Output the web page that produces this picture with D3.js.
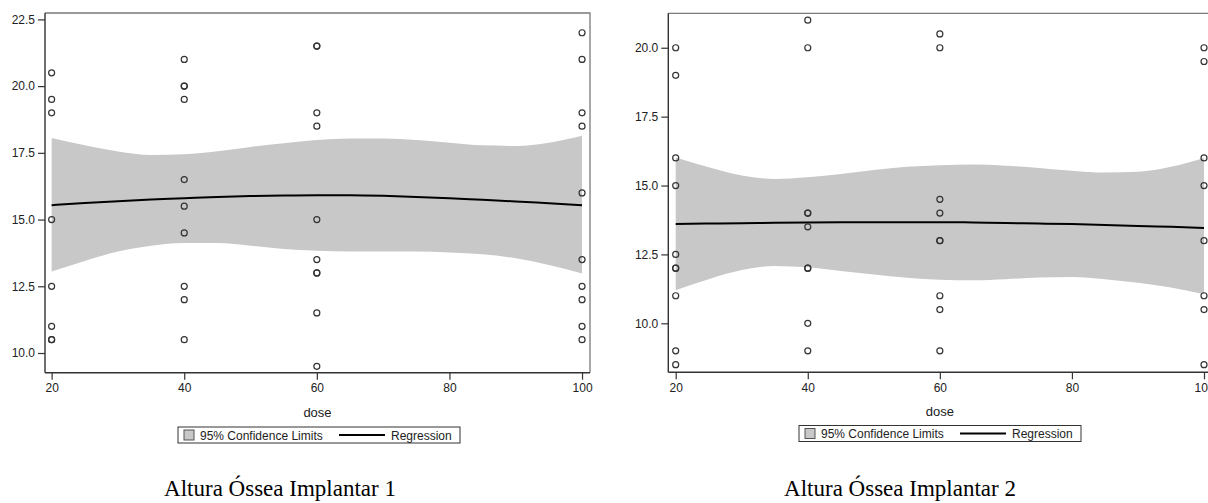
<!DOCTYPE html>
<html>
<head>
<meta charset="utf-8">
<script src="https://cdn.jsdelivr.net/npm/d3@7/dist/d3.min.js"></script>
<style>
  html, body { margin: 0; padding: 0; background: #fff; }
  svg { display: block; }
  text { font-family: "Liberation Sans", Arial, sans-serif; fill: #222; }
  text.caption { font-family: "Liberation Serif", "Times New Roman", serif; fill: #000; }
</style>
</head>
<body>
<svg id="fig" width="1208" height="503"></svg>
<script>
// Dose groups and observed bone heights per group
const doseLevels = [20, 40, 60, 100];
const implant1Obs = [
  [20.5, 19.5, 19, 15, 12.5, 11, 10.5, 10.5],
  [21, 20, 20, 19.5, 16.5, 15.5, 14.5, 12.5, 12, 10.5],
  [21.5, 21.5, 19, 18.5, 15, 13.5, 13, 13, 11.5, 9.5],
  [22, 21, 19, 18.5, 16, 13.5, 12.5, 12, 11, 10.5]
];
const implant2Obs = [
  [20, 19, 16, 15, 12.5, 12, 12, 11, 9, 8.5],
  [21, 20, 14, 14, 13.5, 12, 12, 10, 9],
  [20.5, 20, 14.5, 14, 13, 13, 11, 10.5, 9],
  [20, 19.5, 16, 15, 13, 11, 10.5, 8.5]
];

// Fitted curve and 95% confidence limits along dose
const curveDoses = [20, 25, 30, 35, 40, 45, 50, 55, 60, 65, 70, 75, 80, 85, 90, 95, 100];
const implant1Fit   = [15.54, 15.62, 15.69, 15.75, 15.80, 15.85, 15.88, 15.90, 15.91, 15.91, 15.89, 15.85, 15.80, 15.74, 15.68, 15.61, 15.54];
const implant1Upper = [18.06, 17.78, 17.55, 17.42, 17.45, 17.56, 17.72, 17.86, 17.98, 18.04, 18.04, 17.98, 17.88, 17.78, 17.76, 17.88, 18.14];
const implant1Lower = [13.05, 13.45, 13.80, 14.02, 14.12, 14.12, 14.02, 13.90, 13.83, 13.80, 13.80, 13.80, 13.77, 13.70, 13.55, 13.30, 12.98];
const implant2Fit   = [13.60, 13.62, 13.63, 13.65, 13.66, 13.67, 13.67, 13.67, 13.67, 13.66, 13.64, 13.62, 13.60, 13.57, 13.53, 13.50, 13.46];
const implant2Upper = [16.02, 15.66, 15.36, 15.24, 15.30, 15.42, 15.56, 15.68, 15.74, 15.76, 15.72, 15.64, 15.54, 15.47, 15.50, 15.68, 16.00];
const implant2Lower = [11.20, 11.60, 11.93, 12.08, 12.03, 11.90, 11.77, 11.65, 11.58, 11.56, 11.60, 11.66, 11.68, 11.60, 11.47, 11.30, 11.05];

// Axis ticks
const xTicks = [20, 40, 60, 80, 100];
const yTicks1 = [10, 12.5, 15, 17.5, 20, 22.5];
const yTicks2 = [10, 12.5, 15, 17.5, 20];

const legendLabels = ["95% Confidence Limits", "Regression"];
const axisLabel = "dose";
const captions = ["Altura Óssea Implantar 1", "Altura Óssea Implantar 2"];

const svg = d3.select("#fig");
svg.append("rect").attr("width", 1208).attr("height", 503).attr("fill", "#fff");

function drawPanel(p) {
  const x = d3.scaleLinear().domain(p.xDomain).range([p.left, p.right]);
  const y = d3.scaleLinear().domain(p.yDomain).range([p.bottom, p.top]);
  const g = svg.append("g");

  // confidence band
  const band = curveDoses.map((d, i) => ({ d, lo: p.lower[i], hi: p.upper[i] }));
  g.append("path")
    .datum(band)
    .attr("fill", "#c8c8c8")
    .attr("d", d3.area().curve(d3.curveMonotoneX)
      .x(b => x(b.d)).y0(b => y(b.lo)).y1(b => y(b.hi)));

  // regression line
  g.append("path")
    .datum(curveDoses.map((d, i) => ({ d, v: p.fit[i] })))
    .attr("fill", "none")
    .attr("stroke", "#000")
    .attr("stroke-width", 2)
    .attr("d", d3.line().curve(d3.curveMonotoneX).x(b => x(b.d)).y(b => y(b.v)));

  // observations
  const pts = [];
  doseLevels.forEach((d, i) => p.obs[i].forEach(v => pts.push({ d, v })));
  g.selectAll("circle.obs").data(pts).join("circle")
    .attr("class", "obs")
    .attr("cx", o => x(o.d)).attr("cy", o => y(o.v))
    .attr("r", 3)
    .attr("fill", "none")
    .attr("stroke", "#333")
    .attr("stroke-width", 1.2);

  // frame: top and right
  g.append("path")
    .attr("d", `M${p.left},${p.top}H${p.right}V${p.bottom}`)
    .attr("fill", "none").attr("stroke", "#7a7a7a").attr("stroke-width", 1.3);

  // axes
  const xAxis = d3.axisBottom(x).tickValues(xTicks).tickSize(7).tickPadding(4).tickFormat(d3.format("d"));
  const yAxis = d3.axisLeft(y).tickValues(p.yTicks).tickSize(7).tickPadding(3).tickFormat(d3.format(".1f"));
  const gx = g.append("g").attr("transform", `translate(0,${p.bottom})`).call(xAxis);
  const gy = g.append("g").attr("transform", `translate(${p.left},0)`).call(yAxis);
  [gx, gy].forEach(a => {
    a.select(".domain").attr("stroke", "#333").attr("stroke-width", 1.4);
    a.selectAll(".tick line").attr("stroke", "#333").attr("stroke-width", 1.2);
    a.selectAll(".tick text").attr("font-size", 12).attr("fill", "#222");
  });
  gx.select(".domain").attr("d", `M${p.left},0H${p.right}`);
  gy.select(".domain").attr("d", `M0,${p.top}V${p.bottom}`);

  // x axis title
  g.append("text")
    .attr("x", (p.left + p.right) / 2).attr("y", p.bottom + 44)
    .attr("text-anchor", "middle").attr("font-size", 13)
    .text(axisLabel);

  // legend
  const lx = p.legendX, ly = p.legendY, lw = 282, lh = 16;
  const lg = g.append("g");
  lg.append("rect").attr("x", lx).attr("y", ly).attr("width", lw).attr("height", lh)
    .attr("fill", "#fff").attr("stroke", "#333").attr("stroke-width", 1);
  lg.append("rect").attr("x", lx + 6).attr("y", ly + 3).attr("width", 10).attr("height", 10)
    .attr("fill", "#c8c8c8").attr("stroke", "#555").attr("stroke-width", 1);
  lg.append("text").attr("x", lx + 22).attr("y", ly + 12.5).attr("font-size", 12).text(legendLabels[0]);
  lg.append("line").attr("x1", lx + 161).attr("x2", lx + 207).attr("y1", ly + 8).attr("y2", ly + 8)
    .attr("stroke", "#000").attr("stroke-width", 2);
  lg.append("text").attr("x", lx + 213).attr("y", ly + 12.5).attr("font-size", 12).text(legendLabels[1]);

  // caption
  svg.append("text")
    .attr("class", "caption")
    .attr("x", p.captionX).attr("y", 496)
    .attr("text-anchor", "middle")
    .attr("font-size", 23)
    .text(p.caption);
}

drawPanel({
  left: 45, right: 590, top: 13, bottom: 372.7,
  xDomain: [19, 101.2], yDomain: [9.262, 22.74],
  yTicks: yTicks1, obs: implant1Obs,
  fit: implant1Fit, upper: implant1Upper, lower: implant1Lower,
  legendX: 178, legendY: 427, captionX: 280, caption: captions[0]
});

drawPanel({
  left: 668.3, right: 1211.4, top: 13.3, bottom: 372.3,
  xDomain: [18.88, 101.12], yDomain: [8.222, 21.25],
  yTicks: yTicks2, obs: implant2Obs,
  fit: implant2Fit, upper: implant2Upper, lower: implant2Lower,
  legendX: 799, legendY: 425.5, captionX: 900, caption: captions[1]
});
</script>
</body>
</html>
